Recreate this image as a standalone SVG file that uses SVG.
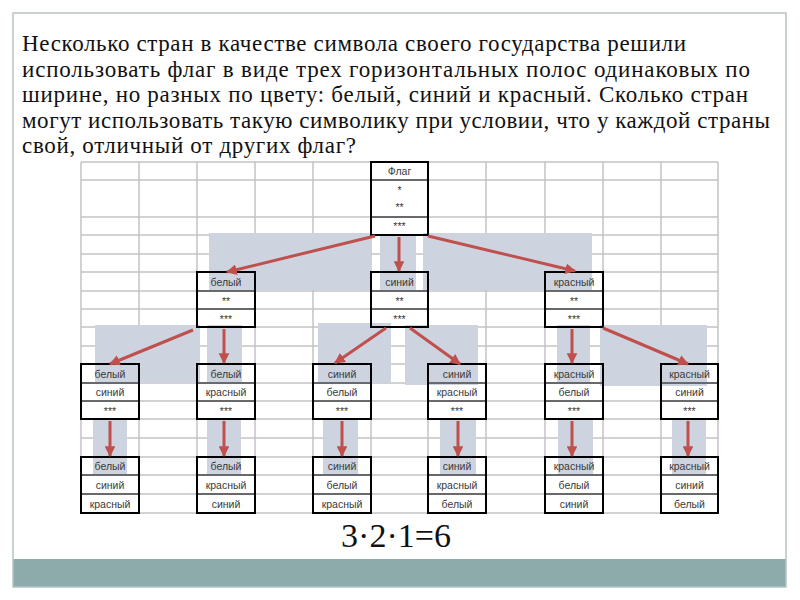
<svg xmlns="http://www.w3.org/2000/svg" width="800" height="600" viewBox="0 0 800 600">
<defs>
<style>
.grid{fill:none;stroke:#c3c3c3;stroke-width:1.5}
.hl{fill:#cdd4e0}
.box{fill:none;stroke:#000;stroke-width:2}
.div{stroke:#000;stroke-width:1}
.cell{font-family:"Liberation Sans","DejaVu Sans",sans-serif;font-size:10.5px;fill:#3a3a3a;text-anchor:middle}
.head{font-family:"Liberation Serif","Times New Roman",serif;font-size:23px;fill:#111}
.arr{stroke:#c0504d;stroke-width:3;fill:none;marker-end:url(#ah)}
</style>
<marker id="ah" viewBox="0 0 10 10" refX="9" refY="5" markerWidth="3.6" markerHeight="3.6" orient="auto" markerUnits="strokeWidth">
<path d="M0,0 L10,5 L0,10 z" fill="#c0504d"/>
</marker>
</defs>
<rect x="0" y="0" width="800" height="600" fill="#fff"/>
<rect x="13" y="13" width="773" height="574" fill="#fff" stroke="#b9c2c2" stroke-width="1.5"/>
<rect x="13.5" y="559" width="772" height="27.5" fill="#8cabaa"/>
<g id="question">
<text class="head" x="22" y="51" textLength="664" lengthAdjust="spacing">Несколько стран в качестве символа своего государства решили</text>
<text class="head" x="22" y="77" textLength="728" lengthAdjust="spacing">использовать флаг в виде трех горизонтальных полос одинаковых по</text>
<text class="head" x="22" y="102" textLength="726" lengthAdjust="spacing">ширине, но разных по цвету: белый, синий и красный. Сколько стран</text>
<text class="head" x="22" y="128" textLength="748" lengthAdjust="spacing">могут использовать такую символику при условии, что у каждой страны</text>
<text class="head" x="22" y="153" textLength="334" lengthAdjust="spacing">свой, отличный от других флаг?</text>
</g>
<g id="grid">
<path class="grid" d="M81,162H718M81,180H718M81,217H718M81,235H718M81,254H718M81,272H718M81,291H718M81,309H718M81,327H718M81,346H718M81,364H718M81,383H718M81,401H718M81,419H718M81,438H718M81,457H718M81,475H718M81,494H718M81,513H718M81,162V513M139,162V513M197,162V513M255,162V513M313,162V513M371,162V513M428,162V513M486,162V513M545,162V513M603,162V513M661,162V513M718,162V513"/>
</g>
<g id="highlights">
<rect class="hl" x="209" y="233" width="162" height="57"/>
<rect class="hl" x="380" y="235" width="36" height="55"/>
<rect class="hl" x="423" y="233" width="169" height="57"/>
<rect class="hl" x="95" y="325" width="105" height="58"/>
<rect class="hl" x="207" y="325" width="35" height="58"/>
<rect class="hl" x="318" y="323" width="73" height="60"/>
<rect class="hl" x="405" y="325" width="73" height="60"/>
<rect class="hl" x="557" y="325" width="33" height="58"/>
<rect class="hl" x="600" y="325" width="107" height="61"/>
<rect class="hl" x="93" y="419" width="34" height="56"/>
<rect class="hl" x="207" y="419" width="34" height="56"/>
<rect class="hl" x="323" y="419" width="35" height="56"/>
<rect class="hl" x="440" y="419" width="36" height="56"/>
<rect class="hl" x="558" y="419" width="35" height="56"/>
<rect class="hl" x="672" y="419" width="34" height="56"/>
</g>
<g id="flag">
<rect class="box" x="371" y="162" width="57" height="73"/>
<path class="div" d="M371,180H428M371,217H428"/>
<text class="cell" x="399.5" y="175">Флаг</text>
<text class="cell" x="399.5" y="194">*</text>
<text class="cell" x="399.5" y="211">**</text>
<text class="cell" x="399.5" y="230">***</text>
</g>
<g id="l2-white">
<rect class="box" x="197" y="272" width="58" height="55"/>
<path class="div" d="M197,291H255M197,309H255"/>
<text class="cell" x="226" y="286">белый</text>
<text class="cell" x="226" y="305">**</text>
<text class="cell" x="226" y="323">***</text>
</g>
<g id="l2-blue">
<rect class="box" x="371" y="272" width="57" height="55"/>
<path class="div" d="M371,291H428M371,309H428"/>
<text class="cell" x="399.5" y="286">синий</text>
<text class="cell" x="399.5" y="305">**</text>
<text class="cell" x="399.5" y="323">***</text>
</g>
<g id="l2-red">
<rect class="box" x="545" y="272" width="58" height="55"/>
<path class="div" d="M545,291H603M545,309H603"/>
<text class="cell" x="574" y="286">красный</text>
<text class="cell" x="574" y="305">**</text>
<text class="cell" x="574" y="323">***</text>
</g>
<g id="l3-wb">
<rect class="box" x="81" y="364" width="58" height="55"/>
<path class="div" d="M81,383H139M81,401H139"/>
<text class="cell" x="110" y="378">белый</text>
<text class="cell" x="110" y="396">синий</text>
<text class="cell" x="110" y="415">***</text>
</g>
<g id="l3-wr">
<rect class="box" x="197" y="364" width="58" height="55"/>
<path class="div" d="M197,383H255M197,401H255"/>
<text class="cell" x="226" y="378">белый</text>
<text class="cell" x="226" y="396">красный</text>
<text class="cell" x="226" y="415">***</text>
</g>
<g id="l3-bw">
<rect class="box" x="313" y="364" width="58" height="55"/>
<path class="div" d="M313,383H371M313,401H371"/>
<text class="cell" x="342" y="378">синий</text>
<text class="cell" x="342" y="396">белый</text>
<text class="cell" x="342" y="415">***</text>
</g>
<g id="l3-br">
<rect class="box" x="428" y="364" width="58" height="55"/>
<path class="div" d="M428,383H486M428,401H486"/>
<text class="cell" x="457" y="378">синий</text>
<text class="cell" x="457" y="396">красный</text>
<text class="cell" x="457" y="415">***</text>
</g>
<g id="l3-rw">
<rect class="box" x="545" y="364" width="58" height="55"/>
<path class="div" d="M545,383H603M545,401H603"/>
<text class="cell" x="574" y="378">красный</text>
<text class="cell" x="574" y="396">белый</text>
<text class="cell" x="574" y="415">***</text>
</g>
<g id="l3-rb">
<rect class="box" x="661" y="364" width="57" height="55"/>
<path class="div" d="M661,383H718M661,401H718"/>
<text class="cell" x="689.5" y="378">красный</text>
<text class="cell" x="689.5" y="396">синий</text>
<text class="cell" x="689.5" y="415">***</text>
</g>
<g id="l4-wbr">
<rect class="box" x="81" y="457" width="58" height="56"/>
<path class="div" d="M81,475H139M81,494H139"/>
<text class="cell" x="110" y="470">белый</text>
<text class="cell" x="110" y="489">синий</text>
<text class="cell" x="110" y="508">красный</text>
</g>
<g id="l4-wrb">
<rect class="box" x="197" y="457" width="58" height="56"/>
<path class="div" d="M197,475H255M197,494H255"/>
<text class="cell" x="226" y="470">белый</text>
<text class="cell" x="226" y="489">красный</text>
<text class="cell" x="226" y="508">синий</text>
</g>
<g id="l4-bwr">
<rect class="box" x="313" y="457" width="58" height="56"/>
<path class="div" d="M313,475H371M313,494H371"/>
<text class="cell" x="342" y="470">синий</text>
<text class="cell" x="342" y="489">белый</text>
<text class="cell" x="342" y="508">красный</text>
</g>
<g id="l4-brw">
<rect class="box" x="428" y="457" width="58" height="56"/>
<path class="div" d="M428,475H486M428,494H486"/>
<text class="cell" x="457" y="470">синий</text>
<text class="cell" x="457" y="489">красный</text>
<text class="cell" x="457" y="508">белый</text>
</g>
<g id="l4-rwb">
<rect class="box" x="545" y="457" width="58" height="56"/>
<path class="div" d="M545,475H603M545,494H603"/>
<text class="cell" x="574" y="470">красный</text>
<text class="cell" x="574" y="489">белый</text>
<text class="cell" x="574" y="508">синий</text>
</g>
<g id="l4-rbw">
<rect class="box" x="661" y="457" width="57" height="56"/>
<path class="div" d="M661,475H718M661,494H718"/>
<text class="cell" x="689.5" y="470">красный</text>
<text class="cell" x="689.5" y="489">синий</text>
<text class="cell" x="689.5" y="508">белый</text>
</g>
<g id="connectors">
<line class="arr" x1="375" y1="236" x2="227" y2="272"/>
<line class="arr" x1="399" y1="237" x2="399" y2="271"/>
<line class="arr" x1="428" y1="236" x2="575" y2="271"/>
<line class="arr" x1="193" y1="330" x2="110" y2="364"/>
<line class="arr" x1="224" y1="329" x2="224" y2="363"/>
<line class="arr" x1="386" y1="328" x2="335" y2="363"/>
<line class="arr" x1="410" y1="328" x2="460" y2="364"/>
<line class="arr" x1="572" y1="329" x2="572" y2="363"/>
<line class="arr" x1="603" y1="328" x2="688" y2="364"/>
<line class="arr" x1="110" y1="421" x2="110" y2="456"/>
<line class="arr" x1="224" y1="421" x2="224" y2="456"/>
<line class="arr" x1="342" y1="421" x2="342" y2="456"/>
<line class="arr" x1="458" y1="421" x2="458" y2="456"/>
<line class="arr" x1="572" y1="421" x2="572" y2="456"/>
<line class="arr" x1="688" y1="421" x2="688" y2="456"/>
</g>
<text x="396" y="547" font-family="Liberation Serif, Times New Roman, serif" font-size="34" text-anchor="middle" fill="#111">3·2·1=6</text>
</svg>
